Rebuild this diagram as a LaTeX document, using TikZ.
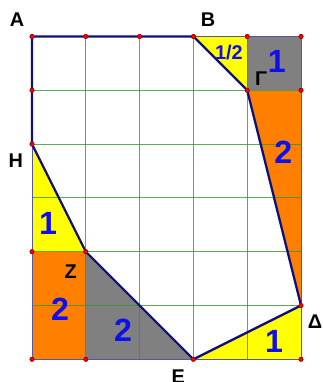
\documentclass[tikz,border=0pt]{standalone}
\usepackage{fontspec}
\setmainfont{Liberation Sans}
\usetikzlibrary{positioning}
\definecolor{gridgreen}{RGB}{50,150,50}
\definecolor{polyblue}{RGB}{15,15,120}
\definecolor{numblue}{RGB}{15,15,235}
\definecolor{fillorange}{RGB}{255,128,0}
\definecolor{fillgray}{RGB}{128,128,128}
\definecolor{fillyellow}{RGB}{255,255,0}

\begin{document}
\begin{tikzpicture}[
  area/.style={text=numblue, font=\fontsize{17}{17}\selectfont\bfseries},
  halfarea/.style={text=numblue, font=\fontsize{10.5}{10.5}\selectfont\bfseries},
  vertex/.style={font=\fontsize{10.5}{10.5}\selectfont\bfseries},
  dot/.style={fill=red, draw=red!60!black, line width=0.3pt}
]
\useasboundingbox (-0.595,-0.422) rectangle (5.39,6.678);

% Vertices of the hexagon-like polygon (1 unit = 1 grid cell)
\coordinate (A) at (0,6);
\coordinate (B) at (3,6);
\coordinate (G) at (4,5);
\coordinate (D) at (5,1);
\coordinate (E) at (3,0);
\coordinate (Z) at (1,2);
\coordinate (H) at (0,4);

% Coloured pieces cut off from the rectangle
\fill[fillyellow] (B) -- (4,6) -- (G) -- cycle;
\fill[fillgray] (4,5) rectangle (5,6);
\fill[fillorange] (G) -- (5,5) -- (D) -- cycle;
\fill[fillyellow] (H) -- (Z) -- (0,2) -- cycle;
\fill[fillorange] (0,0) rectangle (1,2);
\fill[fillgray] (Z) -- (1,0) -- (E) -- cycle;
\fill[fillyellow] (E) -- (5,0) -- (D) -- cycle;

% Grid
\foreach \x in {0,...,5} {
  \draw[gridgreen, opacity=0.8, line width=0.5pt] (\x,0) -- (\x,6);
}
\foreach \y in {0,...,6} {
  \draw[gridgreen, opacity=0.8, line width=0.5pt] (0,\y) -- (5,\y);
}
\draw[polyblue!70, line width=0.5pt] (0,0) rectangle (5,6);

% Polygon
\draw[polyblue, line width=1.2pt, line join=round]
  (A) -- (B) -- (G) -- (D) -- (E) -- (Z) -- (H) -- cycle;

% Points
\foreach \p in {(0,6),(1,6),(2,6),(3,6),(4,6),(5,6),(0,5),(4,5),(5,5),
                (0,4),(0,2),(1,2),(0,0),(1,0),(3,0),(5,0),(5,1)} {
  \fill[dot] \p circle (1.1pt);
  \draw[dot] \p circle (1.1pt);
}

% Vertex labels
\node[vertex] (lA) at (-0.28,6.31) {A};
\node[vertex] (lB) at (3.27,6.31) {B};
\node[vertex] (lG) at (4.26,5.21) {Γ};
\node[vertex] (lH) at (-0.3,3.7) {H};
\node[vertex] (lZ) at (0.72,1.63) {Z};
\node[vertex] (lD) at (5.26,0.70) {Δ};
\node[vertex] (lE) at (2.72,-0.32) {E};

% Areas
\node[halfarea] (a1) at (3.66,5.71) {1/2};
\node[area] (a2) at (4.55,5.53) {1};
\node[area] (a3) at (4.67,3.85) {2};
\node[area] (a4) at (0.3,2.53) {1};
\node[area] (a5) at (0.52,0.93) {2};
\node[area] (a6) at (1.69,0.54) {2};
\node[area] (a7) at (4.5,0.33) {1};
\end{tikzpicture}
\end{document}
